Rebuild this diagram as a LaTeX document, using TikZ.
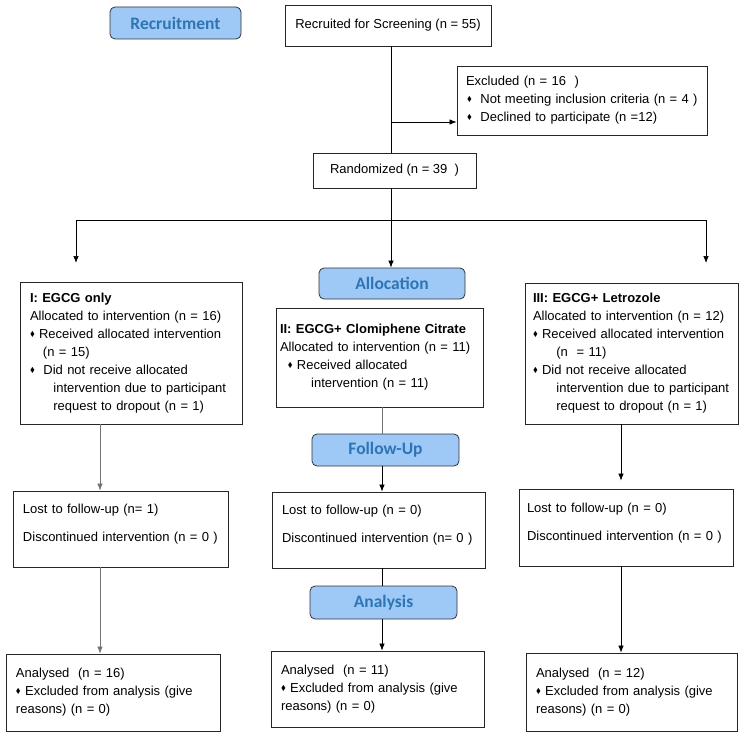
\documentclass[tikz,border=0pt]{standalone}
\usepackage{amssymb}
\usepackage{fontspec}
\setmainfont{Liberation Sans}
\newfontfamily\stagefont{Carlito}
\usetikzlibrary{arrows.meta}
\definecolor{stagefill}{RGB}{158,200,246}
\definecolor{stagetext}{RGB}{46,117,182}
\newcommand{\dia}{\raisebox{.3ex}{\scalebox{.55}{$\blacklozenge$}}}

\begin{document}
\begin{tikzpicture}[x=1pt, y=-1pt,
		box/.style={draw=black!85, line width=.8pt, inner xsep=10pt, inner ysep=0pt, align=left, font=\fontsize{13}{18}\selectfont},
		stage/.style={draw=black!80, line width=.8pt, rounded corners=5pt, fill=stagefill, text=stagetext, inner sep=0pt, font=\stagefont\bfseries\fontsize{17.5}{20}\selectfont},
		con/.style={line width=.7pt},
		arr/.style={con, -{Latex[length=7pt,width=5.5pt]}},
		gry/.style={draw=black!55}]
				\useasboundingbox (0,0) rectangle (744,738);
				\node[stage, minimum width=131pt, minimum height=32pt] (recruit) at (175.5,23) {Recruitment};
				\node[box, minimum width=206pt, minimum height=41pt, inner xsep=0pt] (screen) at (388,25.5) {Recruited for Screening (n = 55)};
				\node[box, text width=238pt, minimum height=69pt, inner xsep=6pt] (excl) at (582,100.5) {\hspace*{3pt}Excluded (n = 16\ \ )\\ \hspace*{4pt}\dia\ \ Not meeting inclusion criteria (n = 4 )\\ \hspace*{4pt}\dia\ \ Declined to participate (n =12)};
				\node[box, minimum width=163pt, minimum height=35pt, inner xsep=0pt] (rand) at (394.5,170.5) {Randomized (n = 39\ \ )};
				\node[stage, minimum width=146pt, minimum height=31pt] (alloc) at (392,283.5) {Allocation};
				\node[box, text width=202pt, minimum height=142pt] (armA) at (131,353) {\textbf{I: EGCG only}\\ Allocated to intervention (n = 16)\\ \dia\ Received allocated intervention\\ \hspace*{1em}(n = 15)\\ \dia\ \ Did not receive allocated\\ \hspace*{1.8em}intervention due to participant\\ \hspace*{1.8em}request to dropout (n = 1)};
				\node[box, text width=199pt, minimum height=99pt, inner xsep=4pt] (armB) at (379.5,357.5) {\textbf{II: EGCG+ Clomiphene Citrate}\\ Allocated to intervention (n = 11)\\ \hspace*{.6em}\dia\ Received allocated\\ \hspace*{2.4em}intervention (n = 11)};
				\node[box, text width=197pt, minimum height=141pt, inner xsep=8pt] (armC) at (631.5,353.5) {\textbf{III: EGCG+ Letrozole}\\ Allocated to intervention (n = 12)\\ \dia\ Received allocated intervention\\ \hspace*{1.8em}(n\ \ = 11)\\ \dia\ Did not receive allocated\\ \hspace*{1.8em}intervention due to participant\\ \hspace*{1.8em}request to dropout (n = 1)};
				\node[stage, minimum width=147pt, minimum height=32pt] (follow) at (385.5,450) {Follow-Up};
				\node[box, text width=195pt, minimum height=76pt] (lostA) at (120.5,529) {Lost to follow-up (n= 1)\\[10pt] Discontinued intervention (n = 0 )\\[-6pt]\mbox{}};
				\node[box, text width=193pt, minimum height=76pt] (lostB) at (378.5,530) {Lost to follow-up (n = 0)\\[10pt] Discontinued intervention (n= 0 )\\[-6pt]\mbox{}};
				\node[box, text width=198pt, minimum height=77pt, inner xsep=8pt] (lostC) at (626,527.5) {Lost to follow-up (n = 0)\\[10pt] Discontinued intervention (n = 0 )\\[-6pt]\mbox{}};
				\node[stage, minimum width=147pt, minimum height=33pt] (analysis) at (383.5,602.5) {Analysis};
				\node[box, text width=194pt, minimum height=77pt] (anaA) at (113,692.5) {Analysed\ \ (n = 16)\\ \dia\ Excluded from analysis (give\\ reasons) (n = 0)};
				\node[box, text width=193pt, minimum height=76pt] (anaB) at (377.5,689) {Analysed\ \ (n = 11)\\ \dia\ Excluded from analysis (give\\ reasons) (n = 0)};
				\node[box, text width=191pt, minimum height=78pt] (anaC) at (631.5,692) {Analysed\ \ (n = 12)\\ \dia\ Excluded from analysis (give\\ reasons) (n = 0)};
				\coordinate (fork) at (391,220);
				\coordinate (branch) at (391,122);
				\coordinate (tipA) at (76,263);
				\coordinate (tipC) at (706,263);
				\coordinate (colA) at (100,0);
				\coordinate (colB) at (382,0);
				\coordinate (colC) at (621,0);
				\draw[con] (screen.south -| fork) -- (rand.north -| fork);
				\draw[arr] (branch) -- (branch -| excl.west);
				\draw[con] (rand.south -| fork) -- (fork);
				\draw[arr] (fork) -| (tipA);
				\draw[arr] (fork) -| (tipC);
				\draw[arr] (fork) -- (alloc.north -| fork);
				\draw[arr, gry] (armA.south -| colA) -- (lostA.north -| colA);
				\draw[arr, gry] (lostA.south -| colA) -- (anaA.north -| colA);
				\draw[con, gry] (armB.south -| colB) -- (follow.north -| colB);
				\draw[arr] (follow.south -| colB) -- (lostB.north -| colB);
				\draw[con] (lostB.south -| colB) -- (analysis.north -| colB);
				\draw[arr] (analysis.south -| colB) -- (anaB.north -| colB);
				\draw[arr, shorten >=8pt] (armC.south -| colC) -- (lostC.north -| colC);
				\draw[arr] (lostC.south -| colC) -- (anaC.north -| colC);
\end{tikzpicture}
\end{document}
